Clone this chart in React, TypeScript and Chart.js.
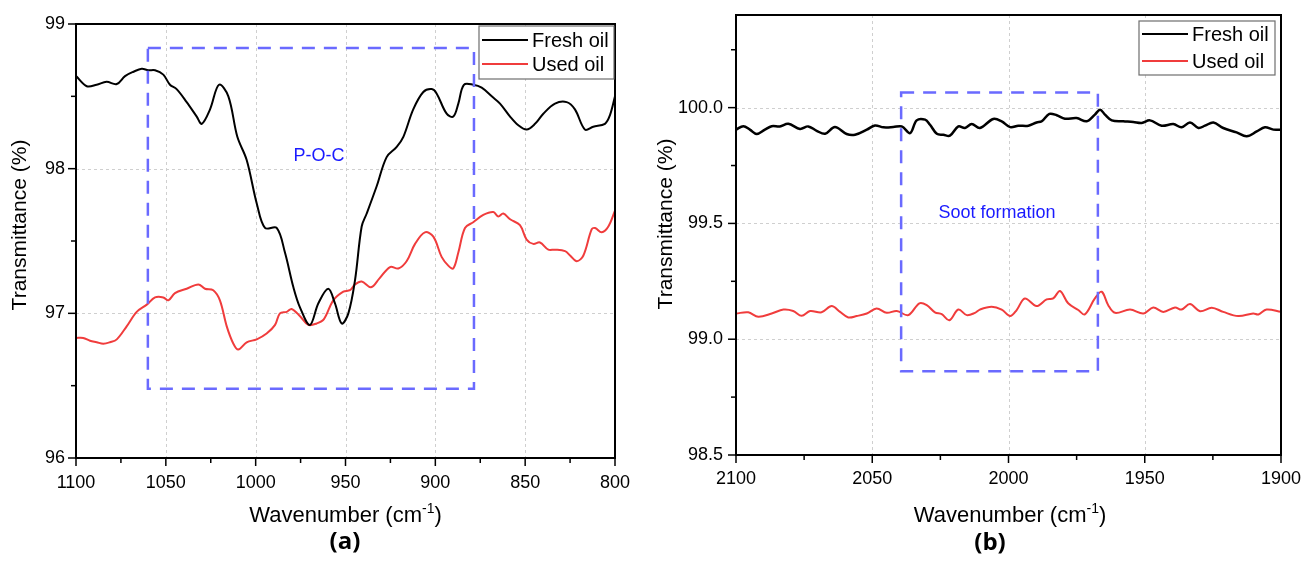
import React, { useEffect, useRef } from 'react';
import { Chart, registerables } from 'chart.js';

Chart.register(...registerables);

const FONT = "'Liberation Sans', Arial, Helvetica, sans-serif";

// ---------------- Panel (a) data ----------------
const seriesLabels = ['Fresh oil', 'Used oil'];

const waveA_fresh = [1100, 1094, 1088.5, 1083, 1077.3, 1072.7, 1068, 1063.4, 1059.8, 1056, 1051.4, 1047.7, 1044, 1038.4, 1032.8, 1030, 1025.4, 1020.4, 1015.2, 1010.2, 1005, 999.4, 994.8, 988.3, 983.7, 979, 975.3, 969.8, 965.1, 959.6, 955.9, 952.1, 948.4, 944.7, 941, 938.2, 932.6, 927.1, 921.5, 917.8, 912.3, 906.7, 902, 899.3, 893.7, 890, 887.2, 884.1, 878.9, 874.2, 868.6, 864, 858.4, 853.8, 849.2, 844.5, 839.9, 833.4, 826.9, 822.3, 816.7, 812.1, 805.6, 802.8, 800];
const transA_fresh = [98.64, 98.57, 98.58, 98.6, 98.585, 98.64, 98.67, 98.69, 98.68, 98.68, 98.65, 98.58, 98.55, 98.46, 98.36, 98.31, 98.41, 98.58, 98.5, 98.22, 98.06, 97.76, 97.59, 97.59, 97.42, 97.18, 97.04, 96.92, 97.07, 97.17, 97.07, 96.93, 97.0, 97.23, 97.6, 97.69, 97.88, 98.08, 98.15, 98.22, 98.41, 98.53, 98.55, 98.52, 98.38, 98.36, 98.45, 98.58, 98.58, 98.56, 98.5, 98.45, 98.36, 98.3, 98.27, 98.31, 98.38, 98.45, 98.46, 98.41, 98.27, 98.29, 98.31, 98.37, 98.5];

const waveA_used = [1100, 1096, 1092.2, 1088.5, 1084.8, 1081.1, 1077.3, 1071.8, 1066.2, 1060.6, 1056, 1051.4, 1048.6, 1044.9, 1038.4, 1031.9, 1028.2, 1023.6, 1019.9, 1016.1, 1012.4, 1009.7, 1005, 999.4, 993.9, 989.2, 986.5, 982.7, 980, 975.3, 970.7, 966, 962, 956.8, 951.2, 947.5, 944.7, 941, 935.8, 931.2, 925.2, 920.6, 916, 911.3, 905.8, 901.1, 896.5, 892.8, 890, 887.2, 883.5, 878.9, 873.3, 867.7, 865, 862.2, 858.4, 852.9, 849.2, 845.5, 841.8, 837.1, 833.4, 827.8, 825, 821.3, 817.6, 813, 811.1, 807.4, 803.7, 800];
const transA_used = [96.83, 96.83, 96.81, 96.8, 96.79, 96.8, 96.82, 96.91, 97.01, 97.06, 97.11, 97.11, 97.09, 97.14, 97.17, 97.2, 97.17, 97.16, 97.09, 96.91, 96.79, 96.75, 96.8, 96.82, 96.86, 96.92, 97.0, 97.01, 97.03, 96.98, 96.92, 96.93, 96.96, 97.09, 97.15, 97.16, 97.2, 97.22, 97.18, 97.24, 97.32, 97.31, 97.36, 97.48, 97.56, 97.53, 97.39, 97.33, 97.31, 97.42, 97.59, 97.63, 97.68, 97.7, 97.67, 97.69, 97.65, 97.61, 97.51, 97.48, 97.49, 97.44, 97.44, 97.43, 97.4, 97.36, 97.4, 97.58, 97.59, 97.56, 97.6, 97.71];

const xMajorA = [1100, 1050, 1000, 950, 900, 850, 800];
const xMinorA = [1075, 1025, 975, 925, 875, 825];
const yMajorA = [96, 97, 98, 99];
const yMinorA = [96.5, 97.5, 98.5];
const boxA = [1060, 878.5, 98.834, 96.478]; // wavenumber from, to, transmittance top, bottom
const noteA = 'P-O-C';
const noteAtA = [964.8, 98.09];

// ---------------- Panel (b) data ----------------
const waveB_fresh = [2100, 2097.3, 2094.9, 2092.4, 2089.4, 2086.9, 2083.9, 2080.8, 2076.5, 2073.5, 2070.4, 2067.3, 2063.7, 2059.4, 2056.3, 2052, 2049, 2045.9, 2042.3, 2039.2, 2036.1, 2033.7, 2030.6, 2028.8, 2026.3, 2023.9, 2021.5, 2018.4, 2016, 2013.5, 2010.5, 2005.6, 2002.5, 1999.4, 1996.4, 1992.7, 1989.7, 1987.8, 1985, 1982.3, 1979.3, 1975, 1971.3, 1968.3, 1966.4, 1964.6, 1962.1, 1957.9, 1954.2, 1951.1, 1948.1, 1943.8, 1939.5, 1936.5, 1933.4, 1930.3, 1927.9, 1924.8, 1921.2, 1916.3, 1912.6, 1908.9, 1905.9, 1902.8, 1900];
const transB_fresh = [99.905, 99.92, 99.905, 99.886, 99.905, 99.92, 99.919, 99.93, 99.908, 99.919, 99.9, 99.887, 99.916, 99.886, 99.883, 99.905, 99.923, 99.915, 99.916, 99.919, 99.89, 99.945, 99.948, 99.926, 99.887, 99.883, 99.879, 99.919, 99.912, 99.929, 99.912, 99.951, 99.941, 99.916, 99.922, 99.922, 99.936, 99.941, 99.973, 99.967, 99.952, 99.955, 99.941, 99.97, 99.991, 99.97, 99.945, 99.941, 99.938, 99.934, 99.945, 99.922, 99.929, 99.915, 99.936, 99.912, 99.922, 99.936, 99.912, 99.893, 99.876, 99.897, 99.915, 99.905, 99.905];

const waveB_used = [2100, 2095.5, 2091.8, 2086.9, 2082.6, 2079, 2075.9, 2072.8, 2068.6, 2064.9, 2061.8, 2058.8, 2055.7, 2052, 2048.4, 2044.7, 2041, 2036.8, 2032.7, 2030, 2027, 2024.5, 2021.7, 2018.4, 2015.3, 2012.3, 2010.5, 2006.2, 2002.5, 1999.4, 1997, 1994, 1989.7, 1986, 1983.6, 1981.1, 1978.1, 1974.4, 1972, 1968.3, 1965.8, 1963.4, 1960.9, 1955.4, 1950.5, 1946.9, 1943.2, 1938.9, 1936.5, 1933.4, 1929.7, 1925.4, 1921.2, 1915.7, 1910.2, 1908.3, 1905.3, 1900];
const transB_used = [99.111, 99.116, 99.097, 99.111, 99.128, 99.122, 99.101, 99.122, 99.116, 99.143, 99.118, 99.094, 99.1, 99.111, 99.133, 99.114, 99.122, 99.104, 99.155, 99.147, 99.116, 99.108, 99.082, 99.128, 99.104, 99.114, 99.128, 99.14, 99.128, 99.1, 99.126, 99.176, 99.143, 99.172, 99.176, 99.208, 99.155, 99.126, 99.107, 99.176, 99.205, 99.147, 99.114, 99.128, 99.111, 99.137, 99.118, 99.137, 99.128, 99.152, 99.121, 99.136, 99.118, 99.1, 99.111, 99.107, 99.128, 99.118];

const xMajorB = [2100, 2050, 2000, 1950, 1900];
const xMinorB = [2075, 2025, 1975, 1925];
const yMajorB = [98.5, 99.0, 99.5, 100.0];
const yMinorB = [98.75, 99.25, 99.75, 100.25];
const boxB = [2039.4, 1967.2, 100.065, 98.862];
const noteB = 'Soot formation';
const noteAtB = [2004.2, 99.545];

// ---------------- styling / geometry ----------------
const BLACK = '#000000';
const RED = '#f03c3c';
const BLUE_BOX = '#6a6aff';
const BLUE_TEXT = '#1a1aff';
const H = 570;

type Cfg = {
  left: number; width: number;
  ca: { left: number; top: number; right: number; bottom: number };
  xs: number[][]; ys: number[][]; lineWidths: number[];
  xMin: number; xMax: number; yMin: number; yMax: number;
  xMajor: number[]; xMinor: number[]; yMajor: number[]; yMinor: number[];
  yDec: number; tickFont: number; yPad: number; xPad: number;
  box: number[]; note: string; noteAt: number[];
  legend: { right: number; top: number; w: number; h: number; y1: number; y2: number };
  yTitle: number[]; xTitle: number[]; panelLabel: string; panelLabelAt: number[];
};

function drawXTitle(ctx: CanvasRenderingContext2D, cx: number, baseline: number, size: number) {
  const main = 'Wavenumber (cm';
  const sup = '-1';
  const end = ')';
  const fMain = `${size}px ${FONT}`;
  const fSup = `${Math.round(size * 0.62)}px ${FONT}`;
  ctx.font = fMain;
  const wMain = ctx.measureText(main).width;
  const wEnd = ctx.measureText(end).width;
  ctx.font = fSup;
  const wSup = ctx.measureText(sup).width;
  let x = cx - (wMain + wSup + wEnd) / 2;
  ctx.textAlign = 'left';
  ctx.textBaseline = 'alphabetic';
  ctx.fillStyle = '#000';
  ctx.font = fMain;
  ctx.fillText(main, x, baseline);
  x += wMain;
  ctx.font = fSup;
  ctx.fillText(sup, x, baseline - size * 0.4);
  x += wSup;
  ctx.font = fMain;
  ctx.fillText(end, x, baseline);
}

function makeDecor(cfg: Cfg) {
  return {
    id: 'panelDecor',
    beforeDatasetsDraw(chart: any) {
      const { ctx, chartArea: ca } = chart;
      const sx = chart.scales.x;
      const sy = chart.scales.y;
      ctx.save();
      ctx.strokeStyle = '#cfcfcf';
      ctx.lineWidth = 1;
      ctx.setLineDash([3, 3]);
      cfg.xMajor.forEach((v) => {
        const px = Math.round(sx.getPixelForValue(v)) + 0.5;
        if (px > ca.left + 2 && px < ca.right - 2) {
          ctx.beginPath();
          ctx.moveTo(px, ca.top);
          ctx.lineTo(px, ca.bottom);
          ctx.stroke();
        }
      });
      cfg.yMajor.forEach((v) => {
        const py = Math.round(sy.getPixelForValue(v)) + 0.5;
        if (py > ca.top + 2 && py < ca.bottom - 2) {
          ctx.beginPath();
          ctx.moveTo(ca.left, py);
          ctx.lineTo(ca.right, py);
          ctx.stroke();
        }
      });
      ctx.restore();
    },
    afterDatasetsDraw(chart: any) {
      const { ctx, chartArea: ca } = chart;
      const sx = chart.scales.x;
      const sy = chart.scales.y;
      ctx.save();
      // dashed highlight box
      const bx1 = sx.getPixelForValue(cfg.box[0]);
      const bx2 = sx.getPixelForValue(cfg.box[1]);
      const by1 = sy.getPixelForValue(cfg.box[2]);
      const by2 = sy.getPixelForValue(cfg.box[3]);
      ctx.strokeStyle = BLUE_BOX;
      ctx.lineWidth = 2.5;
      ctx.setLineDash([13, 9]);
      ctx.strokeRect(bx1, by1, bx2 - bx1, by2 - by1);
      ctx.setLineDash([]);
      // note
      ctx.fillStyle = BLUE_TEXT;
      ctx.font = `18px ${FONT}`;
      ctx.textAlign = 'center';
      ctx.textBaseline = 'middle';
      ctx.fillText(cfg.note, sx.getPixelForValue(cfg.noteAt[0]), sy.getPixelForValue(cfg.noteAt[1]));
      // frame
      ctx.strokeStyle = '#000';
      ctx.lineWidth = 2;
      ctx.strokeRect(ca.left, ca.top, ca.right - ca.left, ca.bottom - ca.top);
      // ticks
      ctx.lineWidth = 1.5;
      const tickX = (v: number, len: number) => {
        const px = sx.getPixelForValue(v);
        ctx.beginPath();
        ctx.moveTo(px, ca.bottom);
        ctx.lineTo(px, ca.bottom + len);
        ctx.stroke();
      };
      const tickY = (v: number, len: number) => {
        const py = sy.getPixelForValue(v);
        ctx.beginPath();
        ctx.moveTo(ca.left, py);
        ctx.lineTo(ca.left - len, py);
        ctx.stroke();
      };
      cfg.xMajor.forEach((v) => tickX(v, 8));
      cfg.xMinor.forEach((v) => tickX(v, 5));
      cfg.yMajor.forEach((v) => tickY(v, 8));
      cfg.yMinor.forEach((v) => tickY(v, 5));
      // legend
      const L = cfg.legend;
      const lx = ca.right - L.right - L.w;
      const ly = ca.top + L.top;
      ctx.fillStyle = '#fff';
      ctx.fillRect(lx, ly, L.w, L.h);
      ctx.strokeStyle = '#6e6e6e';
      ctx.lineWidth = 1.2;
      ctx.strokeRect(lx, ly, L.w, L.h);
      const rows = [L.y1, L.y2];
      chart.data.datasets.forEach((ds: any, i: number) => {
        const yy = ly + rows[i];
        ctx.strokeStyle = ds.borderColor;
        ctx.lineWidth = 2;
        ctx.beginPath();
        ctx.moveTo(lx + 3, yy);
        ctx.lineTo(lx + 49, yy);
        ctx.stroke();
        ctx.fillStyle = '#000';
        ctx.font = `20px ${FONT}`;
        ctx.textAlign = 'left';
        ctx.textBaseline = 'middle';
        ctx.fillText(ds.label, lx + 53, yy + 1);
      });
      // axis titles
      ctx.save();
      ctx.translate(cfg.yTitle[0], cfg.yTitle[1]);
      ctx.rotate(-Math.PI / 2);
      ctx.fillStyle = '#000';
      ctx.font = `21px ${FONT}`;
      ctx.textAlign = 'center';
      ctx.textBaseline = 'middle';
      ctx.fillText('Transmittance (%)', 0, 0);
      ctx.restore();
      drawXTitle(ctx, cfg.xTitle[0], cfg.xTitle[1], 22);
      // panel label
      ctx.fillStyle = '#000';
      ctx.font = `bold 24px 'Open Sans', ${FONT}`;
      ctx.textAlign = 'center';
      ctx.textBaseline = 'middle';
      ctx.fillText(cfg.panelLabel, cfg.panelLabelAt[0], cfg.panelLabelAt[1]);
      ctx.restore();
    },
  };
}

const cfgA: Cfg = {
  left: 0, width: 650,
  ca: { left: 76, top: 24, right: 615, bottom: 458 },
  xs: [waveA_fresh, waveA_used], ys: [transA_fresh, transA_used], lineWidths: [2, 2],
  xMin: 800, xMax: 1100, yMin: 96, yMax: 99,
  xMajor: xMajorA, xMinor: xMinorA, yMajor: yMajorA, yMinor: yMinorA,
  yDec: 0, tickFont: 18, yPad: 11, xPad: 14,
  box: boxA, note: noteA, noteAt: noteAtA,
  legend: { right: 1, top: 2, w: 135, h: 53, y1: 14, y2: 38 },
  yTitle: [20, 225], xTitle: [345.5, 522], panelLabel: '(a)', panelLabelAt: [345, 542],
};

const cfgB: Cfg = {
  left: 650, width: 661,
  ca: { left: 86, top: 15, right: 631, bottom: 455 },
  xs: [waveB_fresh, waveB_used], ys: [transB_fresh, transB_used], lineWidths: [2.5, 2],
  xMin: 1900, xMax: 2100, yMin: 98.5, yMax: 100.4,
  xMajor: xMajorB, xMinor: xMinorB, yMajor: yMajorB, yMinor: yMinorB,
  yDec: 1, tickFont: 18, yPad: 13, xPad: 13,
  box: boxB, note: noteB, noteAt: noteAtB,
  legend: { right: 6, top: 6, w: 136, h: 54, y1: 13, y2: 40 },
  yTitle: [16, 224], xTitle: [360, 522], panelLabel: '(b)', panelLabelAt: [340, 543],
};

const zeroPad = (s: any) => {
  s.paddingTop = 0;
  s.paddingBottom = 0;
  s.paddingLeft = 0;
  s.paddingRight = 0;
};

function Panel({ cfg }: { cfg: Cfg }) {
  const ref = useRef<HTMLCanvasElement | null>(null);
  useEffect(() => {
    if (!ref.current) return;
    const colors = [BLACK, RED];
    const chart = new Chart(ref.current, {
      type: 'line',
      data: {
        datasets: seriesLabels.map((label, i) => ({
          label,
          data: cfg.xs[i].map((x, j) => ({ x, y: cfg.ys[i][j] })),
          borderColor: colors[i],
          backgroundColor: colors[i],
          borderWidth: cfg.lineWidths[i],
          pointRadius: 0,
          tension: 0.35,
          fill: false,
        })),
      },
      options: {
        animation: false,
        responsive: false,
        maintainAspectRatio: false,
        events: [],
        layout: {
          padding: { left: 0, top: cfg.ca.top, right: cfg.width - cfg.ca.right, bottom: 0 },
        },
        plugins: { legend: { display: false }, tooltip: { enabled: false }, title: { display: false } },
        scales: {
          x: {
            type: 'linear',
            reverse: true,
            min: cfg.xMin,
            max: cfg.xMax,
            afterBuildTicks: (s: any) => { s.ticks = cfg.xMajor.map((v) => ({ value: v })); },
            afterFit: (s: any) => { s.height = H - cfg.ca.bottom; zeroPad(s); },
            grid: { display: false, drawTicks: false },
            border: { display: false },
            ticks: {
              autoSkip: false,
              maxRotation: 0,
              padding: cfg.xPad,
              color: '#000',
              font: { family: FONT, size: cfg.tickFont },
              callback: (v: any) => String(v),
            },
          },
          y: {
            type: 'linear',
            min: cfg.yMin,
            max: cfg.yMax,
            afterBuildTicks: (s: any) => { s.ticks = cfg.yMajor.map((v) => ({ value: v })); },
            afterFit: (s: any) => { s.width = cfg.ca.left; zeroPad(s); },
            grid: { display: false, drawTicks: false },
            border: { display: false },
            ticks: {
              padding: cfg.yPad,
              color: '#000',
              font: { family: FONT, size: cfg.tickFont },
              callback: (v: any) => Number(v).toFixed(cfg.yDec),
            },
          },
        },
      } as any,
      plugins: [makeDecor(cfg)],
    });
    return () => chart.destroy();
  }, [cfg]);
  return (
    <canvas
      ref={ref}
      width={cfg.width}
      height={H}
      style={{ position: 'absolute', left: cfg.left, top: 0, width: cfg.width, height: H }}
    />
  );
}

export default function App() {
  return (
    <div style={{ position: 'fixed', left: 0, top: 0, width: 1311, height: H, background: '#fff', overflow: 'hidden' }}>
      <Panel cfg={cfgA} />
      <Panel cfg={cfgB} />
    </div>
  );
}
